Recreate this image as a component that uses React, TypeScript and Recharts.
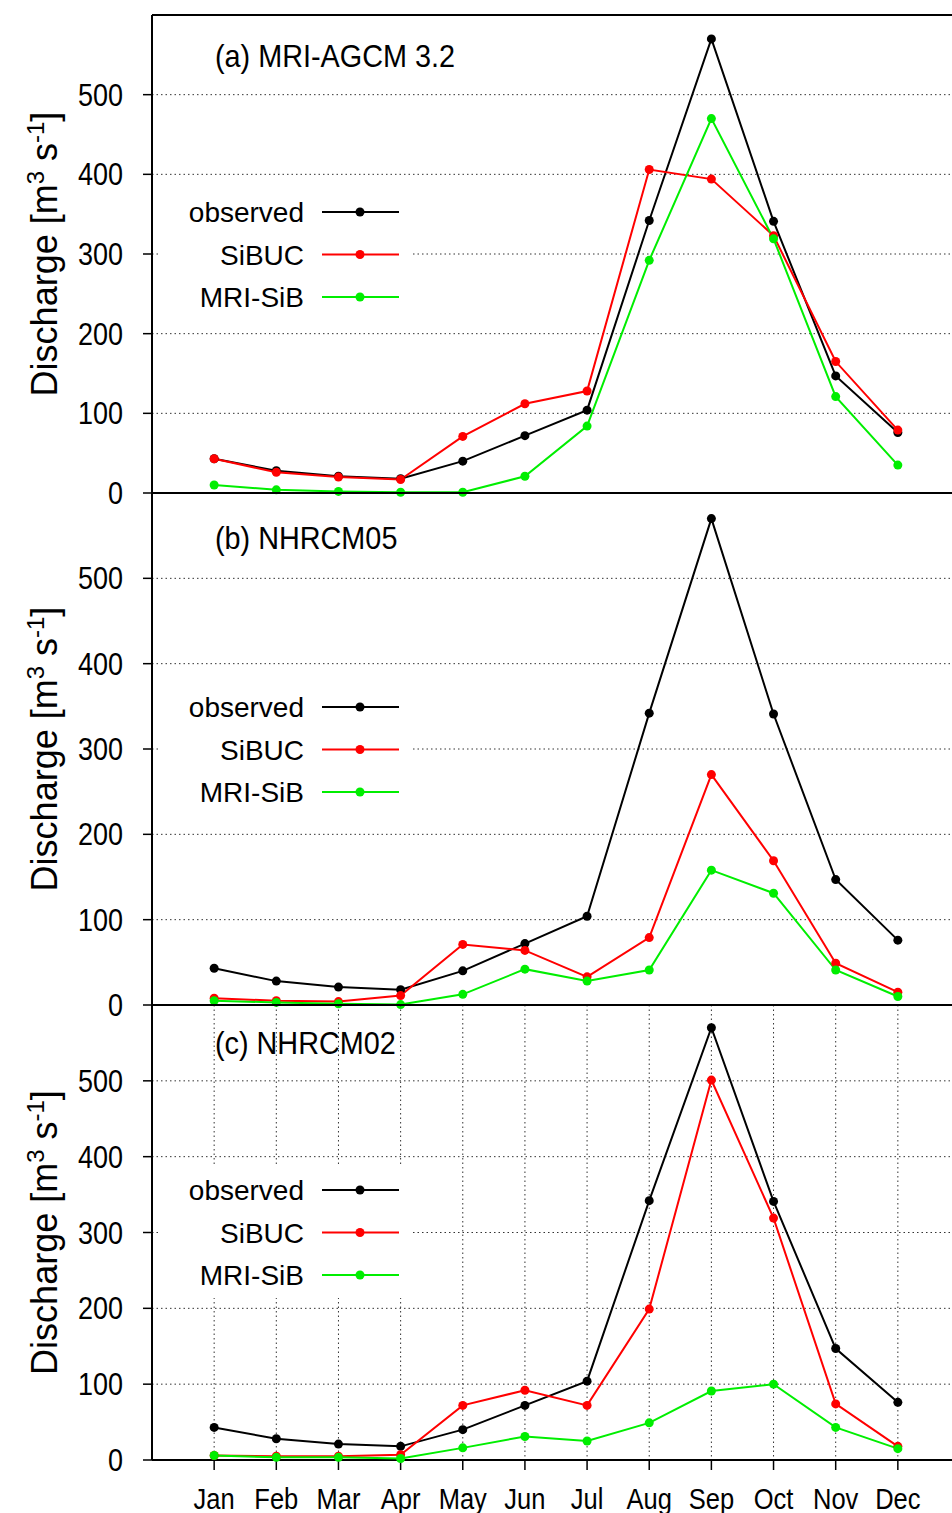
import { LineChart, Line, XAxis, YAxis, CartesianGrid, ReferenceLine, Legend } from "recharts";

const months = ["Jan", "Feb", "Mar", "Apr", "May", "Jun", "Jul", "Aug", "Sep", "Oct", "Nov", "Dec"];
const monthTicks = [1, 2, 3, 4, 5, 6, 7, 8, 9, 10, 11, 12];
const yTicks = [0, 100, 200, 300, 400, 500];

// observed discharge is the same in all three panels
const observed = [43, 28, 21, 18, 40, 72, 104, 342, 570, 341, 147, 76];

const sibucA = [43, 26, 20, 17, 71, 112, 128, 406, 394, 323, 165, 79];
const mriSibA = [10, 4, 2, 1, 1, 21, 84, 292, 470, 319, 121, 35];

const sibucB = [8, 5, 4, 11, 71, 64, 33, 79, 270, 169, 49, 15];
const mriSibB = [5, 3, 1.5, 0.5, 12.5, 42, 28, 41, 158, 131, 41, 10];

const sibucC = [6, 5, 5, 7, 72, 92, 72, 199, 501, 319, 74, 18];
const mriSibC = [6, 3.5, 3.5, 2, 16, 31, 25, 49, 91, 100, 43, 15];

const FONT = "'Liberation Sans', Arial, Helvetica, sans-serif";
const GREEN = "#00ee00";

const series = [
  { key: "observed", name: "observed", color: "#000000" },
  { key: "sibuc", name: "SiBUC", color: "#ff0000" },
  { key: "mriSib", name: "MRI-SiB", color: GREEN },
];

function buildRows(sibuc: number[], mriSib: number[]) {
  return months.map((m, i) => ({
    x: i + 1,
    month: m,
    observed: observed[i],
    sibuc: sibuc[i],
    mriSib: mriSib[i],
  }));
}

const YTick = ({ x, y, payload }: any) => (
  <g transform={`translate(${x},${y})`}>
    <text transform="scale(0.87,1)" textAnchor="end" dy={11} fontSize={31} fontFamily={FONT} fill="#000">
      {payload.value}
    </text>
  </g>
);

const XTick = ({ x, y, payload }: any) => (
  <g transform={`translate(${x},${y})`}>
    <text transform="scale(0.85,1)" textAnchor="middle" dy={39} fontSize={30} fontFamily={FONT} fill="#000">
      {months[payload.value - 1]}
    </text>
  </g>
);

interface PanelProps {
  title: string;
  top: number;
  height: number;
  marginTop: number;
  marginBottom: number;
  plotHeight: number;
  titleY: number;
  legendY: number;
  showMonths: boolean;
  sibuc: number[];
  mriSib: number[];
}

function Overlay({ title, marginTop, plotHeight, titleY, legendY, height }: PanelProps) {
  const cy = marginTop + plotHeight / 2;
  return (
    <svg width={520} height={height} style={{ display: "block" }}>
      <text transform={`translate(215,${titleY}) scale(0.9,1)`} fontSize={32} fontFamily={FONT} fill="#000">
        {title}
      </text>
      <text
        transform={`translate(57,${cy}) rotate(-90)`}
        textAnchor="middle"
        fontSize={36}
        fontFamily={FONT}
        fill="#000"
      >
        Discharge [m
        <tspan dy={-13} fontSize={24}>3</tspan>
        <tspan dy={13}> s</tspan>
        <tspan dy={-13} fontSize={24}>-1</tspan>
        <tspan dy={13}>]</tspan>
      </text>
      <rect x={160} y={legendY - 24} width={252} height={132} fill="#fff" />
      {series.map((s, i) => {
        const ry = legendY + i * 42.5;
        return (
          <g key={s.key}>
            <text x={304} y={ry + 10} textAnchor="end" fontSize={28} fontFamily={FONT} fill="#000">
              {s.name}
            </text>
            <line x1={322} x2={399} y1={ry} y2={ry} stroke={s.color} strokeWidth={2} />
            <circle cx={360} cy={ry} r={4.5} fill={s.color} />
          </g>
        );
      })}
    </svg>
  );
}

function Panel(props: PanelProps) {
  const { top, height, marginTop, marginBottom, showMonths, sibuc, mriSib } = props;
  const data = buildRows(sibuc, mriSib);
  return (
    <div style={{ position: "absolute", left: 0, top }}>
      <LineChart
        width={970}
        height={height}
        data={data}
        margin={{ top: marginTop, right: 10, left: 0, bottom: marginBottom }}
      >
        <CartesianGrid stroke="#333" strokeDasharray="1.5 3" strokeWidth={1} />
        <XAxis
          dataKey="x"
          type="number"
          domain={[0, 13]}
          ticks={monthTicks}
          height={showMonths ? 53 : 0}
          axisLine={false}
          tickLine={showMonths ? { stroke: "#000", strokeWidth: 1.5 } : false}
          tickSize={10}
          tickMargin={0}
          tick={showMonths ? <XTick /> : false}
        />
        <YAxis
          domain={[0, 600]}
          ticks={yTicks}
          width={152}
          tickSize={9}
          tickMargin={20}
          axisLine={{ stroke: "#000", strokeWidth: 2 }}
          tickLine={{ stroke: "#000", strokeWidth: 1.5 }}
          tick={<YTick />}
        />
        <ReferenceLine y={0} stroke="#000" strokeWidth={2} />
        <ReferenceLine y={600} stroke="#000" strokeWidth={2} />
        {series.map((s) => (
          <Line
            key={s.key}
            type="linear"
            dataKey={s.key}
            name={s.name}
            stroke={s.color}
            strokeWidth={2}
            dot={{ r: 4.5, fill: s.color, stroke: s.color, strokeWidth: 0 }}
            activeDot={false}
            isAnimationActive={false}
          />
        ))}
        <Legend
          layout="horizontal"
          verticalAlign="middle"
          align="center"
          wrapperStyle={{ position: "absolute", left: 0, top: 0, width: 520, height, pointerEvents: "none" }}
          content={() => <Overlay {...props} />}
        />
      </LineChart>
    </div>
  );
}

export default function App() {
  return (
    <div
      style={{
        position: "fixed",
        left: 0,
        top: 0,
        width: 952,
        height: 1513,
        overflow: "hidden",
        background: "#fff",
      }}
    >
      <Panel
        title="(a) MRI-AGCM 3.2"
        top={0}
        height={513}
        marginTop={15}
        marginBottom={20}
        plotHeight={478}
        titleY={67}
        legendY={212}
        showMonths={false}
        sibuc={sibucA}
        mriSib={mriSibA}
      />
      <Panel
        title="(b) NHRCM05"
        top={483}
        height={542}
        marginTop={10}
        marginBottom={20}
        plotHeight={512}
        titleY={66}
        legendY={224}
        showMonths={false}
        sibuc={sibucB}
        mriSib={mriSibB}
      />
      <Panel
        title="(c) NHRCM02"
        top={995}
        height={518}
        marginTop={10}
        marginBottom={0}
        plotHeight={455}
        titleY={59}
        legendY={195}
        showMonths={true}
        sibuc={sibucC}
        mriSib={mriSibC}
      />
    </div>
  );
}
